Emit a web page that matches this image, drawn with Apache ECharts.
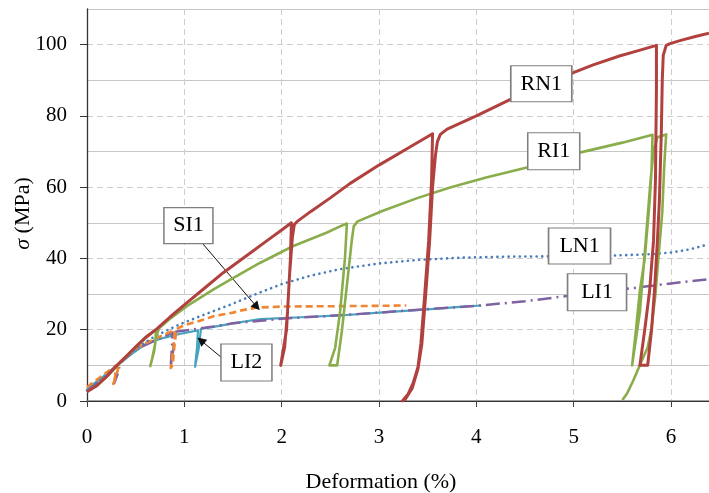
<!DOCTYPE html>
<html>
<head>
<meta charset="utf-8">
<script src="https://cdn.jsdelivr.net/npm/echarts@6/dist/echarts.min.js"></script>
<style>html,body{margin:0;padding:0;background:#fff;}#c{width:709px;height:493px;}</style>
</head>
<body>
<div id="c"></div>
<script>
// ---- Data (x = Deformation %, y = σ MPa) ----
const RN1 = [[0,2.6],[0.1,4.3],[0.2,6.8],[0.3,9.8],[0.4,12.5],[0.5,15.2],[0.6,17.8],[0.72,20.3],[0.85,23.5],[1.0,27],[1.2,31.5],[1.4,36],[1.6,40],[1.85,45],[2.0,48],[2.10,50],
  [2.09,40],[2.06,25],[2.03,15],[1.99,10],[2.01,10],[2.05,20],[2.08,35],[2.11,46],[2.13,49.5],[2.16,50.4],
  [2.3,53.2],[2.5,57],[2.7,61],[3.0,66.2],[3.3,71],[3.55,75],
  [3.54,62],[3.51,45],[3.47,30],[3.43,16],[3.40,9.5],[3.35,5],[3.30,2],[3.24,0],
  [3.27,0.5],[3.34,3.5],[3.40,9],[3.44,16],[3.48,30],[3.52,45],[3.55,60],[3.58,69],[3.60,72.8],[3.63,74.8],[3.70,76.3],
  [4.0,80],[4.34,84.5],[4.7,88.6],[4.99,92.1],[5.2,94.3],[5.47,96.8],[5.7,98.6],[5.85,99.8],
  [5.85,88],[5.84,62],[5.82,45],[5.78,31],[5.73,20],[5.68,10],
  [5.76,10],[5.80,20],[5.83,31],[5.86,45],[5.88,56],[5.90,75],[5.91,90],[5.92,97],[5.95,99.8],[5.99,100.3],
  [6.1,101.2],[6.25,102.3],[6.39,103.2]];
const RI1 = [[0,2.6],[0.1,4.3],[0.2,6.7],[0.3,9.6],[0.4,12.3],[0.5,15],[0.6,17.6],[0.71,20],
  [0.70,16],[0.67,12],[0.65,9.8],[0.67,10],[0.69,14],[0.71,18],[0.74,20.4],
  [0.85,23],[1.03,26.7],[1.3,31.3],[1.5,34.5],[1.78,38.8],[2.12,43.5],[2.46,47.2],[2.6,49],[2.67,49.8],
  [2.65,40],[2.60,25],[2.55,15],[2.49,10],[2.57,10],[2.62,20],[2.68,35],[2.72,45],[2.74,49],[2.78,50.4],
  [3.04,53.4],[3.4,57],[3.73,59.9],[4.1,62.7],[4.52,65.5],[5.06,69.7],[5.5,72.5],[5.81,74.7],
  [5.80,65],[5.78,56],[5.73,40],[5.68,31],[5.64,20],[5.60,10],
  [5.62,10],[5.68,25],[5.74,45],[5.79,62],[5.82,70],[5.86,74],[5.95,74.8],
  [5.93,66],[5.91,53],[5.87,40],[5.84,30],[5.80,20.5],[5.76,15],[5.71,12],[5.61,5.6],[5.55,2.2],[5.50,0.3]];
const LN1 = [[0,3],[0.15,6],[0.3,9.8],[0.45,13.5],[0.6,16.5],[0.72,18.5],[0.95,21.5],[1.2,24.2],[1.47,27],[1.78,30.5],[2.0,32.8],[2.3,35.2],[2.6,37],[3.0,38.6],[3.4,39.6],[3.83,40.2],[4.3,40.5],[4.8,40.6],[5.4,40.8],[5.8,41.2],[6.01,41.7],[6.2,42.6],[6.39,44]];
const SI1 = [[0,3.9],[0.15,7],[0.3,10],[0.29,7],[0.27,4.8],[0.29,5],[0.31,8],[0.33,10.6],
  [0.44,13.5],[0.6,16.2],[0.72,17.7],[0.9,19.9],[0.89,15],[0.86,9.3],[0.88,10],[0.90,16],[0.92,20.2],
  [1.0,21.3],[1.16,22.5],[1.3,23.8],[1.5,24.8],[1.6,25.5],[1.74,26.2],[2.0,26.5],[2.5,26.6],[3.0,26.7],[3.28,26.8]];
const LI1 = [[0,2.8],[0.15,6],[0.3,9.8],[0.29,7],[0.28,5],[0.30,5],[0.32,8],[0.34,10.6],
  [0.5,14.5],[0.7,17],[0.88,19.2],[0.87,14],[0.86,9.6],[0.88,10],[0.89,15],[0.90,19.4],
  [1.09,20.1],[1.3,20.9],[1.5,21.8],[2.0,23.1],[2.5,23.9],[3.0,24.8],[3.5,25.8],[4.0,26.7],[4.5,28],[4.94,29.5],[5.55,31.5],[6.0,33],[6.39,34.2]];
const LI2 = [[0,3.4],[0.15,6.5],[0.3,9.8],[0.45,13],[0.62,16.3],[0.8,17.8],[0.95,18.8],[1.14,19.8],
  [1.13,15],[1.11,9.6],[1.13,10],[1.15,15],[1.17,20.2],
  [1.3,20.8],[1.5,21.8],[1.78,23],[2.2,23.5],[2.6,24],[3.0,24.8],[3.5,25.7],[3.83,26.4],[4.05,26.8]];

const xTicks = [0,1,2,3,4,5,6];
const yTicks = [0,20,40,60,80,100];

const boxNames = ['RN1','RI1','LN1','LI1','SI1','LI2'];
const boxX = [4.667,4.795,5.06,5.24,1.042,1.638];
const boxY = [89.0,70.1,43.5,30.5,49.2,10.8];
const arrowFrom = [[1.19,44.1],[1.386,12.1]];
const arrowTo = [[1.745,26.4],[1.17,17.0]];

// ---- Styles ----
const boxSizes = [[61,36],[52,37],[62,36],[59,37],[49,36],[51,37]];
const serif = '"Liberation Serif","Times New Roman",serif';

function lineSeries(name, data, color, width, type, z, cap) {
  return {
    name: name, type: 'line', data: data, showSymbol: false, symbol: 'none',
    smooth: false, z: z, animation: false,
    lineStyle: { color: color, width: width, type: type, cap: cap || 'butt', join: 'round' }
  };
}

const chart = echarts.init(document.getElementById('c'), null, { renderer: 'canvas' });

const series = [
  lineSeries('LI2', LI2, '#45A5C0', 2.2, 'solid', 2),
  lineSeries('LI1', LI1, '#7F62A1', 2.5, [14,5,2,5], 3),
  lineSeries('SI1', SI1, '#EE8633', 2.6, [7,4], 4),
  lineSeries('LN1', LN1, '#4A7EBB', 2.6, [0.1,5.5], 5, 'round'),
  lineSeries('RI1', RI1, '#8AAD4C', 2.6, 'solid', 6),
  lineSeries('RN1', RN1, '#B0413E', 3, 'solid', 7),
  {
    type: 'line', data: [], z: 9, animation: false,
    markLine: {
      silent: true, animation: false,
      symbol: ['none', 'triangle'], symbolSize: 9,
      label: { show: false },
      lineStyle: { color: '#111', width: 1, type: 'solid' },
      itemStyle: { color: '#111' },
      emphasis: { disabled: true },
      data: arrowFrom.map((f, i) => [{ coord: f }, { coord: arrowTo[i] }])
    }
  },
  {
    type: 'scatter', z: 10, animation: false, silent: true,
    symbol: 'rect',
    data: boxNames.map((n, i) => ({ name: n, value: [boxX[i], boxY[i]], symbolSize: boxSizes[i] })),
    itemStyle: { color: '#fff', borderColor: '#7f7f7f', borderWidth: 1.3, opacity: 1 },
    label: { show: true, position: 'inside', formatter: p => p.name, color: '#000', fontFamily: serif, fontSize: 22 }
  }
];

chart.setOption({
  animation: false,
  backgroundColor: '#fff',
  grid: { left: 87, right: 0, top: 9, bottom: 92, containLabel: false, outerBoundsMode: 'none' },
  xAxis: [
    {
      type: 'value', min: 0, max: 6.39, interval: 1,
      name: 'Deformation (%)', nameLocation: 'middle', nameGap: 70, nameMoveOverlap: false,
      nameTextStyle: { fontFamily: serif, fontSize: 22, color: '#000', padding: [0, 34, 0, 0] },
      axisLine: { show: true, onZero: false, lineStyle: { color: '#808080', width: 1.6 } },
      axisTick: { show: true, length: 6, lineStyle: { color: '#404040', width: 1 } },
      axisLabel: { margin: 26, fontFamily: serif, fontSize: 21, color: '#000',
        formatter: v => (xTicks.indexOf(v) >= 0 ? String(v) : '') },
      splitLine: { show: true, lineStyle: { color: '#cccccc', width: 1, type: [6, 4] } }
    },
    {
      type: 'value', min: 0, max: 6.39, position: 'top',
      axisLine: { show: true, lineStyle: { color: '#333', width: 1.2 } },
      axisTick: { show: false }, axisLabel: { show: false }, splitLine: { show: false }
    }
  ],
  yAxis: [
    {
      type: 'value', min: 0, max: 110, interval: 20,
      name: '{i|σ} (MPa)', nameLocation: 'middle', nameGap: 53, nameRotate: 90, nameMoveOverlap: false,
      nameTextStyle: { fontFamily: serif, fontSize: 22, color: '#000', padding: [0, 17, 0, 0],
        rich: { i: { fontFamily: serif, fontSize: 22, fontStyle: 'italic', color: '#000' } } },
      axisLine: { show: true, lineStyle: { color: '#333', width: 1.3 } },
      axisTick: { show: true, length: 7, customValues: yTicks, lineStyle: { color: '#333', width: 1 } },
      axisLabel: { margin: 20, customValues: yTicks, fontFamily: serif, fontSize: 21, color: '#000',
        formatter: v => (yTicks.indexOf(v) >= 0 ? String(v) : '') },
      splitLine: { show: true, lineStyle: { color: '#cccccc', width: 1, type: [6, 4] } }
    },
    {
      type: 'value', min: 0, max: 110, interval: 10, position: 'left',
      axisLine: { show: false }, axisTick: { show: false }, axisLabel: { show: false },
      splitLine: { show: true, lineStyle: { color: ['rgba(0,0,0,0)', '#c6c6c6'], width: 1, type: 'solid' } }
    }
  ],
  series: series
});
</script>
</body>
</html>
